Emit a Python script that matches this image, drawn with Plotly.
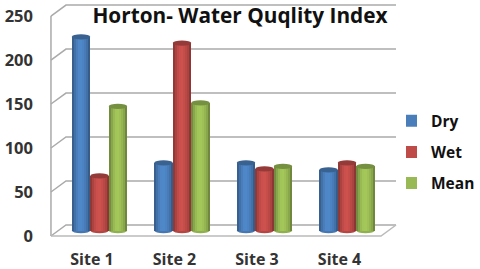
import plotly.graph_objects as go

sites = ["Site 1", "Site 2", "Site 3", "Site 4"]
dry = [220, 77, 77, 69]
wet = [62, 213, 70, 77]
mean = [141, 145, 73, 73]
y_ticks = [0, 50, 100, 150, 200, 250]

series = [("Dry", dry, (74, 126, 187)), ("Wet", wet, (190, 75, 72)), ("Mean", mean, (152, 185, 84))]
positions = list(range(len(sites)))

BAR_W = 0.224
DX, DY = 0.182, 12.5
LEFT, RIGHT = -0.588, 3.412
shade = [0.76, 0.90, 1.0, 1.07, 1.08, 1.04, 0.98, 0.90, 0.74]
GRID = "#aaaaaa"


def tint(c, f):
    return "rgb(%d,%d,%d)" % tuple(min(255, int(v * f)) for v in c)


fig = go.Figure()
shapes = []

for v in y_ticks:
    shapes.append(dict(type="path", xref="x", yref="y", layer="below",
                       path=f"M {LEFT} {v} L {LEFT + DX} {v + DY} L {RIGHT + DX} {v + DY}",
                       line=dict(color=GRID, width=1.5)))
shapes.append(dict(type="line", xref="x", yref="y", layer="below", x0=LEFT, x1=LEFT, y0=0, y1=250,
                   line=dict(color=GRID, width=1.5)))
shapes.append(dict(type="path", xref="x", yref="y", layer="below",
                   path=f"M {LEFT} 0 L {RIGHT} 0 L {RIGHT + DX} {DY}",
                   line=dict(color="#bbbbbb", width=1.5)))

n = len(shade)
for i, (name, vals, col) in enumerate(series):
    left = -1.5 * BAR_W + i * BAR_W
    fig.add_trace(go.Bar(x=positions, y=vals, yaxis="y2", name=f"<b>{name}</b>", legendgroup=name,
                         width=BAR_W, offset=left, marker=dict(color=tint(col, 1.0), line_width=0),
                         hoverinfo="skip"))
    for j, f in enumerate(shade):
        fig.add_trace(go.Bar(x=positions, y=vals, yaxis="y2", name=name, legendgroup=name, showlegend=False,
                             width=BAR_W / n + 0.002, offset=left + j * BAR_W / n,
                             marker=dict(color=tint(col, f), line_width=0), hoverinfo="skip"))
    for p, v in zip(positions, vals):
        for yv, colr, lay in ((0, tint(col, 0.95), "below"), (v, tint(col, 0.78), "above")):
            shapes.append(dict(type="circle", xref="x", yref="y2", layer=lay,
                               x0=p + left, x1=p + left + BAR_W, y0=yv - 3, y1=yv + 3,
                               fillcolor=colr, line=dict(width=0)))

FONT = "Open Sans"
fig.update_layout(
    width=480, height=269, autosize=False,
    margin=dict(l=48, r=0, t=3, b=31),
    paper_bgcolor="white", plot_bgcolor="white",
    barmode="overlay", bargap=0,
    shapes=shapes,
    title=dict(text="<b>Horton- Water Quqlity Index</b>", x=240 / 480, xanchor="center",
               y=1 - 16 / 269, yanchor="middle", font=dict(family=FONT, size=20.8, color="#111111")),
    xaxis=dict(domain=[0, 352 / 432], range=[-0.624, 3.642], tickmode="array",
               tickvals=[p - DX / 2 for p in positions],
               ticktext=[f"<b>{s}</b>" for s in sites],
               showgrid=False, zeroline=False, showline=False, ticks="", ticklabelstandoff=10,
               tickfont=dict(family=FONT, size=16, color="#333333")),
    yaxis=dict(range=[-2.27, 264.8], tickmode="array", tickvals=y_ticks, ticktext=[f"<b>{v}</b>" for v in y_ticks],
               showgrid=False, zeroline=False, showline=False, ticks="", ticklabelstandoff=14,
               tickfont=dict(family=FONT, size=16.5, color="#333333")),
    yaxis2=dict(range=[-8.5, 258.57], overlaying="y", visible=False, showgrid=False, zeroline=False),
    legend=dict(x=(406 - 48) / 432, xanchor="left", y=0.365, yanchor="middle", tracegroupgap=8, indentation=-15,
                bgcolor="rgba(0,0,0,0)", font=dict(family=FONT, size=15.5, color="#111111"), traceorder="grouped"),
)

fig.write_html("out.html", config={"displayModeBar": False},
               post_script="document.body.style.margin='0';document.documentElement.style.overflow='hidden';")
